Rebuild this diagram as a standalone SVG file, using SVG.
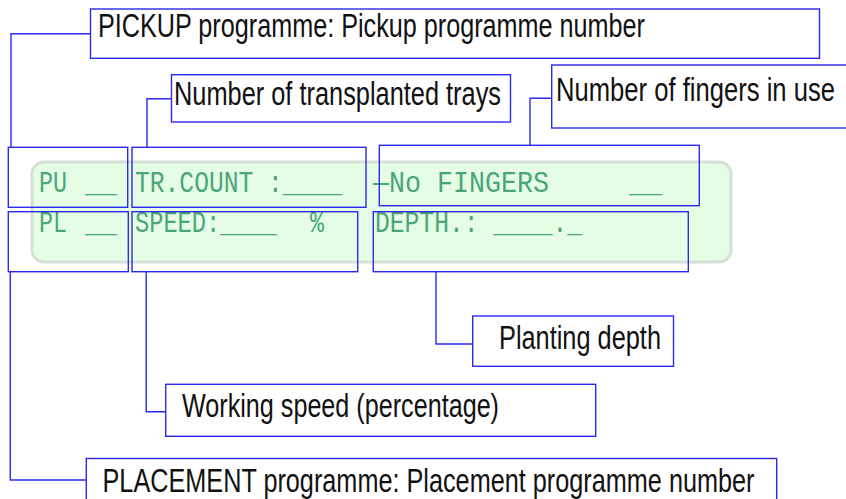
<svg xmlns="http://www.w3.org/2000/svg" width="846" height="499" viewBox="0 0 846 499">
<style>
.bx{fill:none;stroke:#2a2af2;stroke-width:1.4}
.cn{fill:none;stroke:#2a2af2;stroke-width:1.4}
.lcd{font-family:"Liberation Mono","DejaVu Sans Mono",monospace;font-size:29px;fill:#4aa679}
.lb{font-family:"Liberation Sans",Arial,sans-serif;font-size:34px;fill:#111}
</style>
<rect width="846" height="499" fill="#ffffff"/>
<g id="panel">
<rect x="32" y="162" width="699" height="100" rx="12" fill="#e4fde4" stroke="#d3e2d5" stroke-width="3"/>
</g>
<g id="display-text">
<text class="lcd" x="39" y="192" textLength="28" lengthAdjust="spacingAndGlyphs">PU</text>
<text class="lcd" x="85" y="192" textLength="32" lengthAdjust="spacingAndGlyphs">__</text>
<text class="lcd" x="135" y="192" textLength="207" lengthAdjust="spacingAndGlyphs">TR.COUNT :____</text>
<text class="lcd" x="373" y="192" textLength="176" lengthAdjust="spacingAndGlyphs">—No FINGERS</text>
<text class="lcd" x="629" y="192" textLength="33" lengthAdjust="spacingAndGlyphs">__</text>
<text class="lcd" x="39" y="232" textLength="28" lengthAdjust="spacingAndGlyphs">PL</text>
<text class="lcd" x="85" y="232" textLength="32" lengthAdjust="spacingAndGlyphs">__</text>
<text class="lcd" x="135" y="232" textLength="142" lengthAdjust="spacingAndGlyphs">SPEED:____</text>
<text class="lcd" x="310" y="232" textLength="14" lengthAdjust="spacingAndGlyphs">%</text>
<text class="lcd" x="375" y="232" textLength="207" lengthAdjust="spacingAndGlyphs">DEPTH.: ____._</text>
</g>
<g id="field-boxes">
<rect id="f-pu" class="bx" x="8.3" y="147.3" width="119.4" height="60"/>
<rect id="f-tr" class="bx" x="132" y="147.3" width="234" height="60"/>
<rect id="f-nof" class="bx" x="379.3" y="145.3" width="320" height="60.4"/>
<rect id="f-pl" class="bx" x="8.3" y="211.7" width="120" height="60"/>
<rect id="f-speed" class="bx" x="132" y="211.7" width="225.7" height="60"/>
<rect id="f-depth" class="bx" x="373.3" y="211.7" width="315" height="60"/>
</g>
<g id="connectors">
<path class="cn" d="M90.5 33.7 H11 V147.3"/>
<path class="cn" d="M171.5 98.7 H147 V147.3"/>
<path class="cn" d="M551.7 98.3 H530 V145.3"/>
<path class="cn" d="M436 271.7 V344 H472.7"/>
<path class="cn" d="M146.2 271.7 V411.7 H165.7"/>
<path class="cn" d="M10.3 271.7 V480 H86.3"/>
</g>
<g id="pickup">
<rect class="bx" x="90.5" y="9" width="729" height="49.3"/>
<text class="lb" x="98" y="36.7" textLength="547" lengthAdjust="spacingAndGlyphs">PICKUP programme: Pickup programme number</text>
</g>
<g id="trays">
<rect class="bx" x="171.5" y="74.7" width="339" height="47.3"/>
<text class="lb" x="174" y="104.5" textLength="327" lengthAdjust="spacingAndGlyphs">Number of transplanted trays</text>
</g>
<g id="fingers">
<rect class="bx" x="551.7" y="65" width="300" height="63"/>
<text class="lb" x="556" y="101" textLength="279" lengthAdjust="spacingAndGlyphs">Number of fingers in use</text>
</g>
<g id="depth">
<rect class="bx" x="472.7" y="316" width="200.8" height="50.3"/>
<text class="lb" x="499" y="348.5" textLength="162" lengthAdjust="spacingAndGlyphs">Planting depth</text>
</g>
<g id="speed">
<rect class="bx" x="165.7" y="384.3" width="430" height="52"/>
<text class="lb" x="182" y="417" textLength="317" lengthAdjust="spacingAndGlyphs">Working speed (percentage)</text>
</g>
<g id="placement">
<rect class="bx" x="86.3" y="458.5" width="690.4" height="50"/>
<text class="lb" x="102.5" y="492" textLength="652" lengthAdjust="spacingAndGlyphs">PLACEMENT programme: Placement programme number</text>
</g>
</svg>
